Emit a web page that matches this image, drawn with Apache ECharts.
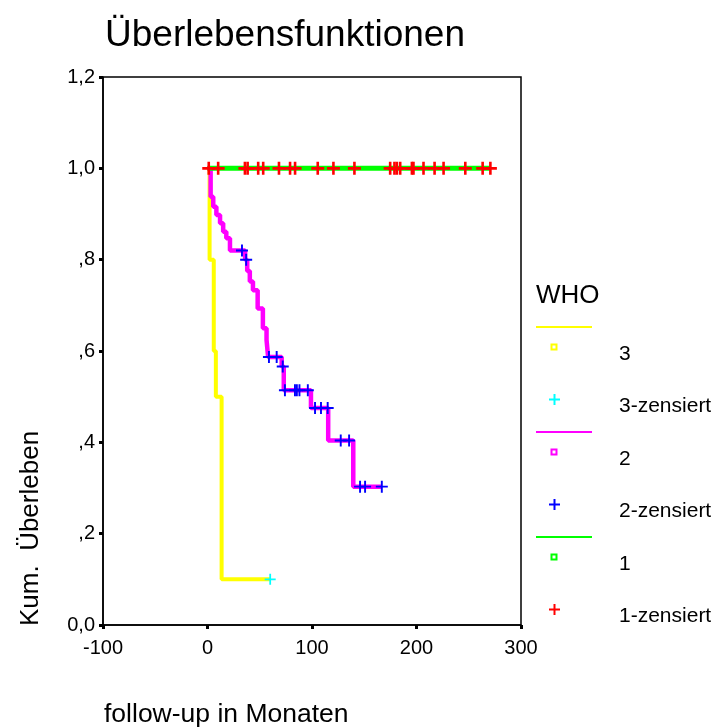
<!DOCTYPE html>
<html>
<head>
<meta charset="utf-8">
<script src="https://cdn.jsdelivr.net/npm/echarts@6/dist/echarts.min.js"></script>
<style>
  html, body { margin: 0; padding: 0; background: #fff; }
  #chart { width: 715px; height: 728px; }
</style>
</head>
<body>
<div id="chart"></div>
<script>
// WHO 3 - Kaplan-Meier Stufen (Zeit in Monaten, kum. Überleben)
const who3Times = [0, 2, 6, 8, 13.5, 60];
const who3Surv = [1, 0.8, 0.6, 0.5, 0.1, 0.1];
const who3CensTimes = [60];
const who3CensSurv = [0.1];

// WHO 2
const who2Times = [0, 3, 5.5, 8.5, 12, 15, 18, 21.5, 36, 38, 40.5, 43.5, 48, 53, 56.5, 58, 71, 73, 99, 115.5, 139.5, 167];
const who2Surv = [1, 0.938, 0.916, 0.898, 0.88, 0.861, 0.847, 0.82, 0.80, 0.775, 0.752, 0.733, 0.693, 0.65, 0.624, 0.587, 0.566, 0.514, 0.475, 0.404, 0.303, 0.303];
const who2CensTimes = [33, 37, 58.8, 66.2, 72, 74.1, 83.7, 85.5, 88, 96, 102.9, 108.6, 115, 127.5, 135.5, 146, 150.8, 166.8];
const who2CensSurv = [0.82, 0.80, 0.587, 0.587, 0.566, 0.514, 0.514, 0.514, 0.514, 0.514, 0.475, 0.475, 0.475, 0.404, 0.404, 0.303, 0.303, 0.303];

// WHO 1 (keine Ereignisse)
const who1Times = [0, 270.7];
const who1Surv = [1, 1];
const who1CensTimes = [1.2, 10.2, 35.8, 38.4, 48.5, 53.3, 68.4, 79, 83.8, 105.5, 120.5, 140.6, 174.8, 178.9, 181.2, 184.4, 195.6, 197.1, 206.7, 217.3, 225.9, 246.7, 263.3, 270.7];
const who1CensSurv = who1CensTimes.map(() => 1);

// Achsen
const xTicks = [-100, 0, 100, 200, 300];
const yTicks = [0, 0.2, 0.4, 0.6, 0.8, 1.0, 1.2];

// Legende
const legendItems = [
  { label: '3', color: '#ffff00', kind: 'line' },
  { label: '3-zensiert', color: '#00ffff', kind: 'cross' },
  { label: '2', color: '#ff00ff', kind: 'line' },
  { label: '2-zensiert', color: '#0000ff', kind: 'cross' },
  { label: '1', color: '#00ff00', kind: 'line' },
  { label: '1-zensiert', color: '#ff0000', kind: 'cross' }
];

const FONT = '"Liberation Sans", Arial, sans-serif';
const PLUS = 'path://M4,0H6V4H10V6H6V10H4V6H0V4H4Z';
const PLUS_THIN = 'path://M4.2,0H5.8V4.2H10V5.8H5.8V10H4.2V5.8H0V4.2H4.2Z';

function pairs(xs, ys) {
  return xs.map((x, i) => [x, ys[i]]);
}

function yLabel(v) {
  const s = v.toFixed(1).replace('.', ',');
  if (v > 0 && v < 1) return s.substring(1);
  return s;
}

function stepSeries(xs, ys, color, width) {
  return {
    type: 'line',
    step: 'end',
    data: pairs(xs, ys),
    showSymbol: false,
    lineStyle: { color: color, width: width },
    itemStyle: { color: color },
    z: 2
  };
}

function censSeries(xs, ys, color, size, path) {
  return {
    type: 'scatter',
    data: pairs(xs, ys),
    symbol: path,
    symbolSize: size,
    itemStyle: { color: color, opacity: 1 },
    z: 3
  };
}

// Legende als Grafik
const legendGraphic = [
  { type: 'text', left: 536, top: 283, style: { text: 'WHO', font: '26px ' + FONT, fill: '#000' } }
];
const legendTop = 354;
const legendStep = 52.5;
legendItems.forEach((it, i) => {
  const cy = legendTop + i * legendStep;
  if (it.kind === 'line') {
    legendGraphic.push({
      type: 'line',
      shape: { x1: 536, y1: cy - 27, x2: 592, y2: cy - 27 },
      style: { stroke: it.color, lineWidth: 2 }
    });
    legendGraphic.push({
      type: 'rect',
      shape: { x: 551.5, y: cy - 9.5, width: 5, height: 5 },
      style: { stroke: it.color, fill: 'none', lineWidth: 2 }
    });
  } else {
    legendGraphic.push({
      type: 'line',
      shape: { x1: 549, y1: cy - 7, x2: 560, y2: cy - 7 },
      style: { stroke: it.color, lineWidth: 2 }
    });
    legendGraphic.push({
      type: 'line',
      shape: { x1: 554.5, y1: cy - 12.5, x2: 554.5, y2: cy - 1.5 },
      style: { stroke: it.color, lineWidth: 2 }
    });
  }
  legendGraphic.push({
    type: 'text',
    x: 619,
    y: cy,
    style: { text: it.label, font: '21px ' + FONT, fill: '#000', textVerticalAlign: 'middle' }
  });
});

const chart = echarts.init(document.getElementById('chart'));
chart.setOption({
  animation: false,
  backgroundColor: '#fff',
  title: {
    text: 'Überlebensfunktionen',
    left: 100,
    top: 12,
    textStyle: { fontFamily: FONT, fontSize: 37, fontWeight: 'normal', color: '#000' }
  },
  grid: {
    left: 103,
    right: 194,
    top: 77,
    bottom: 103,
    show: true,
    borderColor: '#000',
    borderWidth: 1.5
  },
  xAxis: {
    type: 'value',
    min: xTicks[0],
    max: xTicks[xTicks.length - 1],
    interval: 100,
    splitLine: { show: false },
    axisLine: { show: true, onZero: false, lineStyle: { color: '#000', width: 1.5 } },
    axisTick: { show: true, length: 4, lineStyle: { color: '#000', width: 3 } },
    axisLabel: { color: '#000', fontFamily: FONT, fontSize: 20, margin: 13 }
  },
  yAxis: {
    type: 'value',
    min: yTicks[0],
    max: yTicks[yTicks.length - 1],
    interval: 0.2,
    splitLine: { show: false },
    axisLine: { show: true, onZero: false, lineStyle: { color: '#000', width: 1.5 } },
    axisTick: { show: true, length: 4, lineStyle: { color: '#000', width: 3 } },
    axisLabel: { color: '#000', fontFamily: FONT, fontSize: 20, margin: 8, formatter: yLabel }
  },
  graphic: [
    {
      type: 'text',
      x: 31,
      y: 626,
      rotation: Math.PI / 2,
      style: { text: 'Kum.  Überleben', font: '26px ' + FONT, fill: '#000', textAlign: 'left', textVerticalAlign: 'middle' }
    },
    {
      type: 'text',
      left: 104,
      top: 701,
      style: { text: 'follow-up in Monaten', font: '26.5px ' + FONT, fill: '#000' }
    }
  ].concat(legendGraphic),
  series: [
    stepSeries(who3Times, who3Surv, '#ffff00', 4),
    censSeries(who3CensTimes, who3CensSurv, '#00ffff', 11, PLUS_THIN),
    stepSeries(who2Times, who2Surv, '#ff00ff', 4.5),
    censSeries(who2CensTimes, who2CensSurv, '#0000ff', 12, PLUS_THIN),
    stepSeries(who1Times, who1Surv, '#00ff00', 5),
    censSeries(who1CensTimes, who1CensSurv, '#ff0000', 13, PLUS)
  ]
});
</script>
</body>
</html>
